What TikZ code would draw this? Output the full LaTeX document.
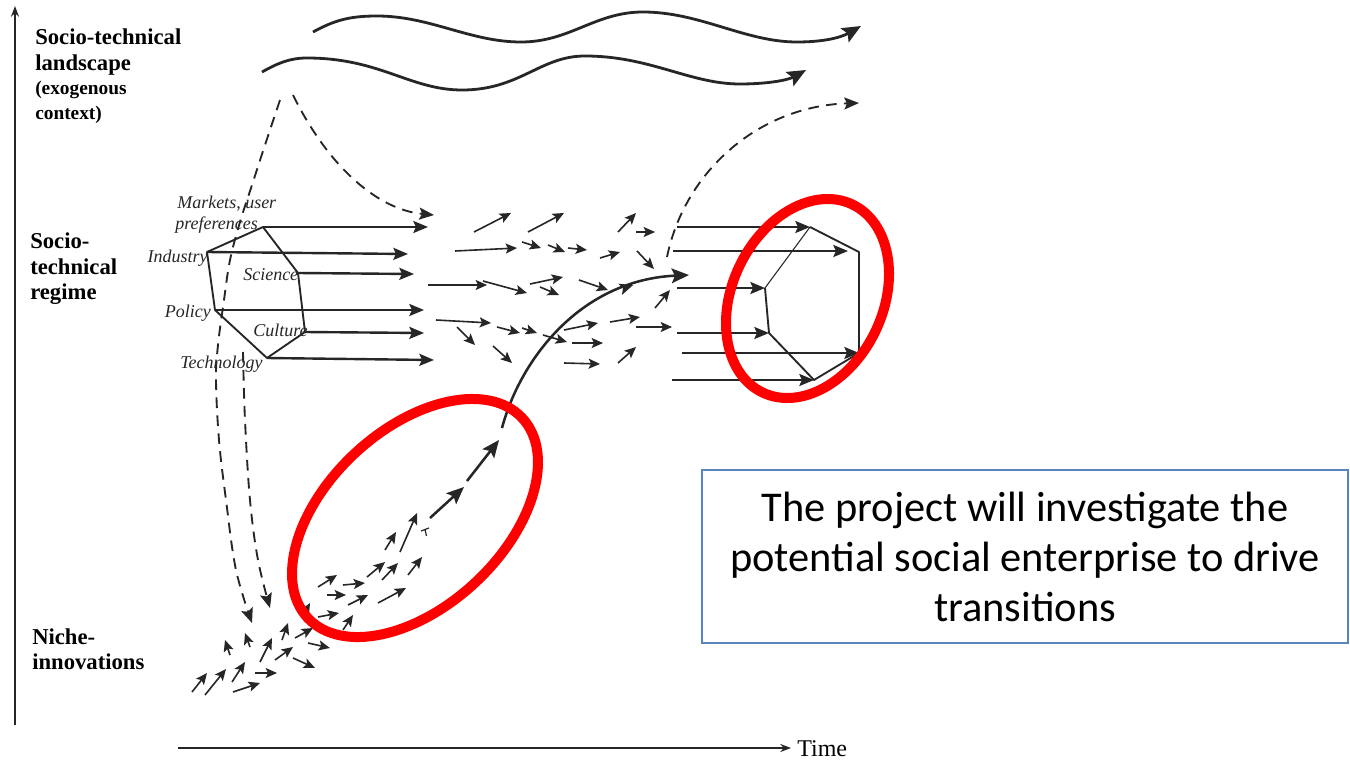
\documentclass[tikz,border=0pt]{standalone}
\usepackage{fontspec}
\setmainfont{Liberation Serif}
\newfontfamily\calibrifont{Carlito}
\usetikzlibrary{arrows.meta,decorations.markings}
\definecolor{ink}{HTML}{262626}
\definecolor{boxblue}{HTML}{5A86C0}
\definecolor{ellred}{HTML}{FF0000}
\begin{document}
\begin{tikzpicture}[x=0.75pt,y=-0.75pt,
  sa/.style={draw=ink,line width=1.2pt,-{Stealth[length=8.5pt,width=7.5pt,inset=1.8pt]}},
  ha/.style={draw=ink,line width=1.8pt,-{Stealth[length=11pt,width=9pt,inset=2pt]}},
  dsh/.style={draw=ink,line width=1.4pt,dash pattern=on 8pt off 5.5pt,-{Stealth[length=11pt,width=9pt,inset=2pt]}},
  wave/.style={draw=ink,line width=2.1pt,-{Stealth[length=14pt,width=12pt,inset=2.5pt]}},
  big/.style={draw=ink,line width=1.9pt,-{Stealth[length=13pt,width=11pt,inset=2.5pt]}},
  axis/.style={draw=ink,line width=1.4pt,-{Stealth[length=8pt,width=6pt]}},
  hexedge/.style={draw=ink,line width=1.4pt,line join=round},
  lab/.style={font=\fontsize{17}{19}\selectfont\bfseries,inner sep=0pt,anchor=base west},
  sublab/.style={font=\fontsize{14.5}{18}\selectfont\bfseries,inner sep=0pt,anchor=base west},
  ital/.style={font=\fontsize{13.5}{16}\selectfont\itshape,inner sep=0pt,text=ink},
  ring/.style={draw=ellred,line width=7.5pt}
]
\useasboundingbox (0,0) rectangle (1350,760);
\fill[white] (0,0) rectangle (1350,760);

% axes
\coordinate (yaxB) at (15,725); \coordinate (yaxT) at (15,6);
\draw[axis] (yaxB) -- (yaxT);
\coordinate (taxL) at (178,748); \coordinate (taxR) at (791,748);
\draw[axis] (taxL) -- (taxR);
\node[anchor=base west,font=\fontsize{18}{20}\selectfont,inner sep=0pt] (time) at (797,756) {Time};

% level labels
\node[lab] (l1a) at (35,45) {Socio-technical};
\node[lab] (l1b) at (35,70) {landscape};
\node[sublab] (l1c) at (35,94) {(exogenous};
\node[sublab] (l1d) at (35,119) {context)};
\node[lab] (l2a) at (30,248) {Socio-};
\node[lab] (l2b) at (30,274) {technical};
\node[lab] (l2c) at (30,299) {regime};
\node[lab] (l3a) at (32,644) {Niche-};
\node[lab] (l3b) at (32,669) {innovations};

% landscape waves
\draw[wave] (313,32) .. controls (335,20) and (350,16) .. (377,16)
  .. controls (430,16) and (470,42) .. (521,42)
  .. controls (570,42) and (595,12) .. (643,12)
  .. controls (700,12) and (745,42) .. (797,42)
  .. controls (822,42) and (840,38) .. (861,26);
\draw[wave] (262,72) .. controls (278,63) and (290,58) .. (307,58)
  .. controls (380,58) and (410,90) .. (462,90)
  .. controls (520,90) and (540,56) .. (585,56)
  .. controls (650,56) and (690,84) .. (740,84)
  .. controls (768,84) and (788,80) .. (806,70);

% dashed landscape pressures
\draw[dsh] plot[smooth,tension=0.6] coordinates {(280,100) (265,145) (252,185) (240,222) (230,260) (224,300) (218,345) (216,380) (219,440) (226,500) (236,570) (252,623)};
\draw[dsh] plot[smooth,tension=0.6] coordinates {(243,352) (245,420) (250,500) (258,560) (270,608)};
\draw[dsh] (293,95) .. controls (330,170) and (380,210) .. (434,215);
\draw[dsh] (667,257) .. controls (685,170) and (760,106) .. (859,103);

% regime hexagon (left)
\coordinate (hT) at (263,227); \coordinate (hI) at (207,252);
\coordinate (hS) at (298,273); \coordinate (hP) at (215,310);
\coordinate (hC) at (305,332); \coordinate (hB) at (267,358);
\draw[hexedge] (hT) -- (hS) -- (hC) -- (hB) -- (hP) -- (hI) -- cycle;
\coordinate (hTe) at (428,227); \coordinate (hIe) at (408,254);
\coordinate (hSe) at (414,274); \coordinate (hPe) at (424,310);
\coordinate (hCe) at (424,333); \coordinate (hBe) at (434,360);
\draw[ha] (hT) -- (hTe);
\draw[ha] (hI) -- (hIe);
\draw[ha] (hS) -- (hSe);
\draw[ha] (hP) -- (hPe);
\draw[ha] (hC) -- (hCe);
\draw[ha] (hB) -- (hBe);

\node[ital,anchor=base west] (lmk) at (177,208) {Markets, user};
\node[ital,anchor=base west] (lpr) at (175,229) {preferences};
\node[ital,anchor=base east] (lin) at (208,262) {Industry};
\node[ital,anchor=base west] (lsc) at (243,280) {Science};
\node[ital,anchor=base east] (lpo) at (211,317) {Policy};
\node[ital,anchor=base west] (lcu) at (253,336) {Culture};
\node[ital,anchor=base west] (lte) at (180,368) {Technology};

% scattered regime arrows
\foreach \ax/\ay/\bx/\by in {474/232/511/213, 528/232/564/213, 618/232/636/213,
  636/232/655/232, 455/251/517/248, 522/242/541/248, 548/245/565/252,
  568/248/587/250, 600/258/620/252, 637/251/654/269, 428/285/487/285,
  483/281/527/293, 530/284/563/277, 540/287/559/295, 579/280/608/290,
  655/308/670/290, 436/320/491/323, 457/327/475/345, 497/327/520/333,
  522/328/537/333, 543/335/567/342, 493/346/512/363, 564/330/598/323,
  572/343/603/343, 610/322/640/317, 636/327/672/327, 564/363/600/364,
  618/363/636/347}
  \draw[sa] (\ax,\ay) -- (\bx,\by);

% niche arrows
\foreach \ax/\ay/\bx/\by in {192/692/207/673, 205/695/226/669, 232/682/245/662,
  233/692/260/683, 255/673/277/673, 230/655/225/640, 250/647/245/633,
  260/662/272/638, 275/660/293/647, 293/658/315/668, 282/640/288/623,
  295/638/313/628, 308/643/330/648, 305/612/310/603, 318/617/339/613,
  343/630/353/615, 348/605/368/595, 318/587/337/575, 327/595/346/595,
  343/585/365/583, 367/577/385/562, 382/580/398/563, 378/603/406/588,
  385/550/396/532, 400/552/417/513, 408/575/422/557}
  \draw[sa] (\ax,\ay) -- (\bx,\by);

% niche trajectory
\coordinate (n0) at (430,518); \coordinate (n1) at (464,487);
\coordinate (n2) at (467,481); \coordinate (n3) at (499,440);
\coordinate (n4) at (502,428); \coordinate (n5) at (689,275);
\draw[ink,line width=0.9pt] (421,531) -- (429,528) (425,529.5) -- (426.5,536);
\draw[big] (n0) -- (n1);
\draw[big] (n2) -- (n3);
\draw[big,postaction={decorate},decoration={markings,mark=at position 0.78 with {\arrow{Stealth[length=10pt,width=8.5pt,inset=2pt]}}}]
  (n4) .. controls (520,360) and (580,280) .. (n5);

% new regime hexagon (right)
\coordinate (rT) at (810,227); \coordinate (rRT) at (859,252);
\coordinate (rRB) at (859,353); \coordinate (rB) at (814,380);
\coordinate (rLB) at (769,333); \coordinate (rLT) at (765,288);
\draw[hexedge] (rLT) -- (rLB) -- (rB) -- (rRB) -- (rRT) -- (rT);
\draw[draw=ink,line width=0.8pt] (rLT) -- (rT);
\coordinate (r1) at (677,227); \coordinate (r2) at (673,251);
\coordinate (r2e) at (848,251); \coordinate (r3) at (677,288);
\coordinate (r4) at (677,333); \coordinate (r5) at (682,353);
\coordinate (r6) at (672,380);
\draw[ha] (r1) -- (rT);
\draw[ha] (r2) -- (r2e);
\draw[ha] (r3) -- (rLT);
\draw[ha] (r4) -- (rLB);
\draw[ha] (r5) -- (rRB);
\draw[ha] (r6) -- (rB);

% red highlight rings
\draw[ring, rotate around={43:(415,518)}] (415,518) ellipse [x radius=146.6, y radius=88.3];
\draw[ring, rotate around={64.5:(807.5,298.5)}] (807.5,298.5) ellipse [x radius=104.2, y radius=75.4];

% text box
\node[draw=boxblue,line width=1pt,minimum width=484.5pt,minimum height=129.75pt,inner sep=0pt,align=center,
  font=\calibrifont\fontsize{31.8}{37.5}\selectfont] (box) at (1025,556.5)
  {The project will investigate the\\potential social enterprise to drive\\transitions};
\end{tikzpicture}
\end{document}
